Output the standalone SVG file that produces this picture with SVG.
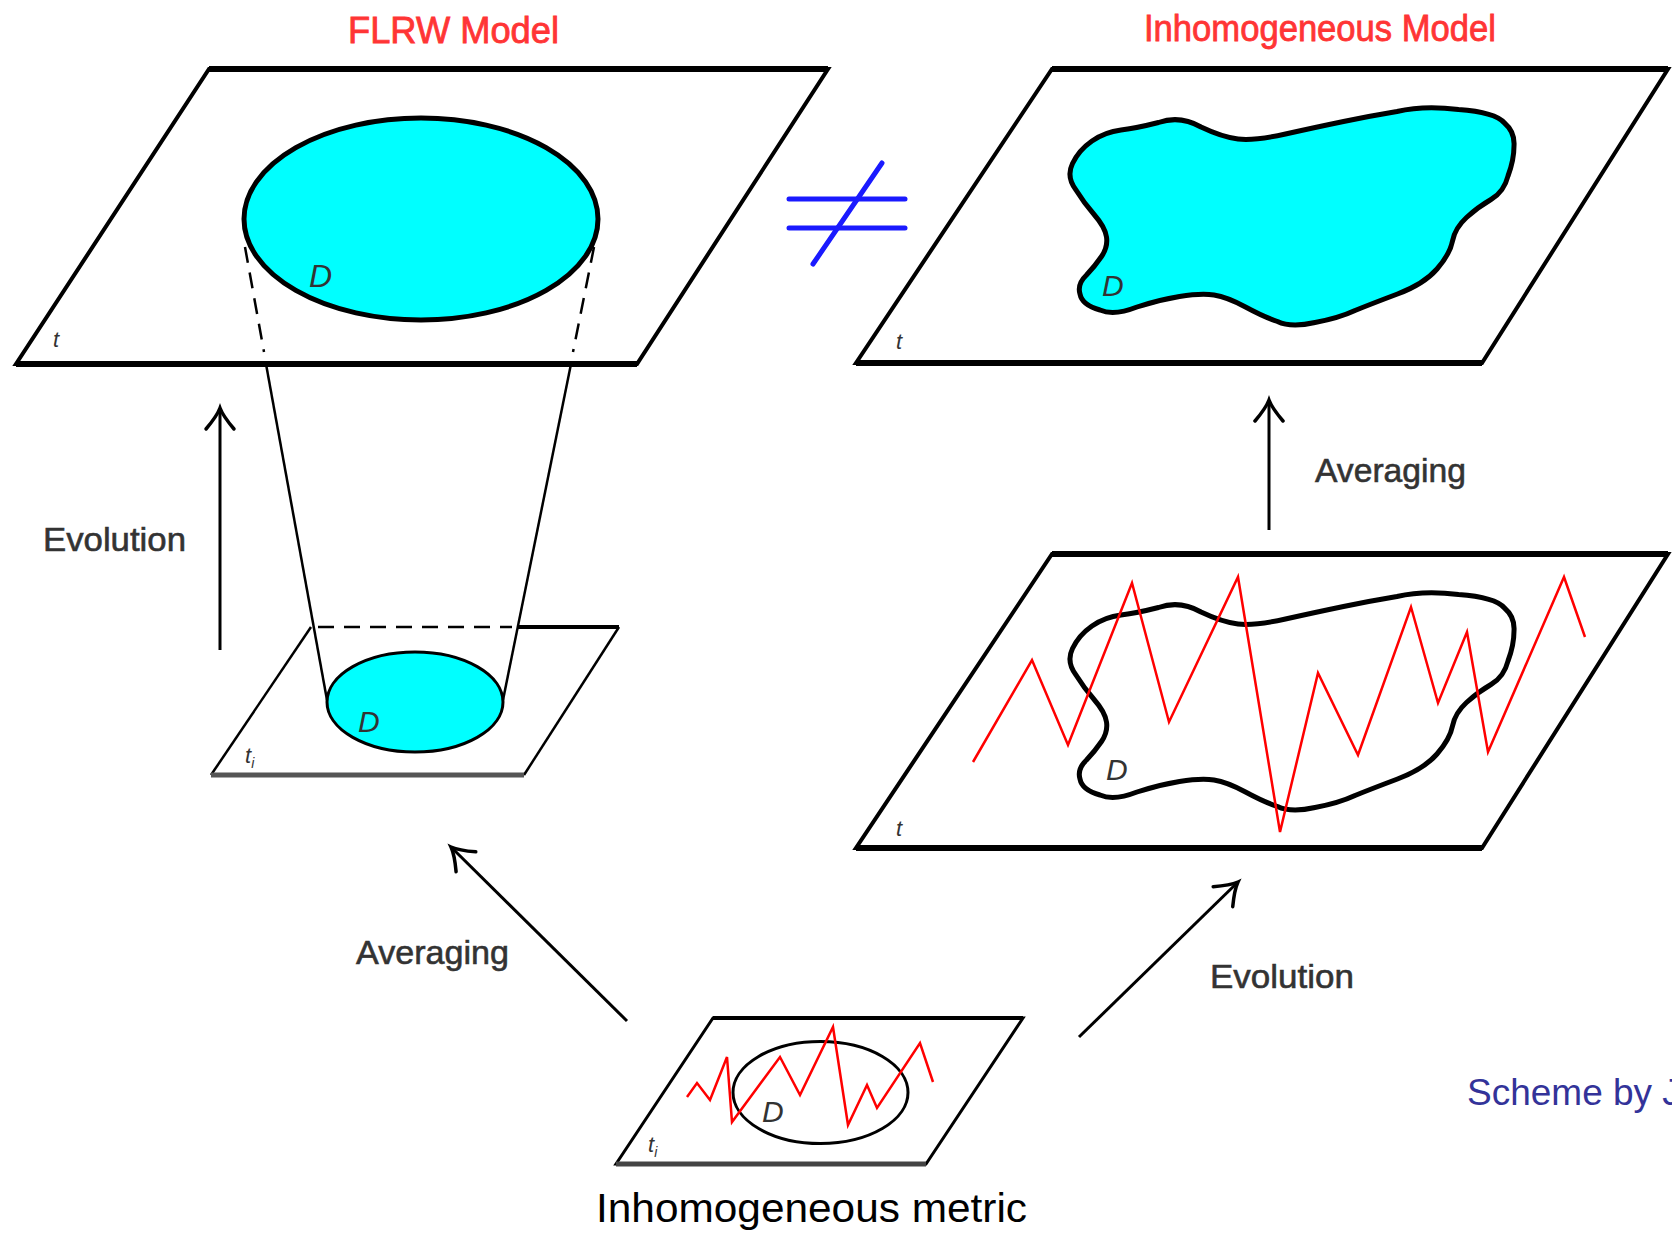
<svg xmlns="http://www.w3.org/2000/svg" xmlns:xlink="http://www.w3.org/1999/xlink" width="1672" height="1233" viewBox="0 0 1672 1233">
<style>
.plane{fill:#fff;stroke:#000;stroke-width:4;stroke-linejoin:miter}
.edge{stroke:#000;stroke-width:6;fill:none}
.thin{stroke:#000;stroke-width:2.5;fill:none}
.dash{stroke:#000;stroke-width:2.5;fill:none;stroke-dasharray:16 10}
.disk{fill:#00ffff;stroke:#000;stroke-width:5}
.zig{fill:none;stroke:#ff0000;stroke-width:2.5;stroke-linejoin:miter}
.arrow{stroke:#000;stroke-width:3;fill:none;marker-end:url(#ah)}
.title{font-family:"Liberation Sans",Arial,sans-serif;font-size:36px;fill:#ff3535;stroke:#ff3535;stroke-width:0.8}
.lbl{font-family:"Liberation Sans",Arial,sans-serif;font-size:34px;fill:#333;stroke:#333;stroke-width:0.6}
.var{font-family:"Liberation Sans",Arial,sans-serif;font-style:italic;fill:#333}
.cap{font-family:"Liberation Sans",Arial,sans-serif;font-size:40px;fill:#000}
</style>
<defs>
<marker id="ah" markerUnits="userSpaceOnUse" markerWidth="40" markerHeight="40" refX="0" refY="0" viewBox="-25 -20 30 40" orient="auto" overflow="visible">
<path d="M-21,-14 Q-8,-3 0,0 Q-8,3 -21,14" fill="none" stroke="#000" stroke-width="3.5" stroke-linecap="round"/>
</marker>
<path id="blob" d="M1158.5,122.5 Q1180,115 1201,127 Q1222,137 1238,139 Q1254,141 1285.5,134 Q1317,127 1343.5,121.5 Q1370,116 1397,111.5 Q1424,105 1458.5,109.5 Q1495,112 1504.5,123 Q1515,132 1514,146 Q1514,160 1508,176 Q1504,192 1491,199.5 Q1478,207 1466.5,217.5 Q1455,228 1452.5,241 Q1450,254 1437,269 Q1424,284 1397.5,294 Q1371,304 1355,310.5 Q1339,318 1315,322.5 Q1291,328 1277.5,321.5 Q1264,317 1245.5,307 Q1227,297 1214,295 Q1201,293 1179.5,296.5 Q1158,300 1137,307 Q1114,316 1100,310 Q1082,305 1080,294 Q1077,284 1086.5,275 Q1095,266 1101.5,256.5 Q1108,247 1106.5,237 Q1105,227 1094.5,215 Q1084,203 1076,190 Q1066,177 1072.5,163.5 Q1079,150 1092,141 Q1105,132 1121,130 Q1137,128 1158.5,122.5 Z"/>
</defs>
<rect width="1672" height="1233" fill="#fff"/>

<!-- Titles -->
<text class="title" x="348" y="43" textLength="211" lengthAdjust="spacingAndGlyphs">FLRW Model</text>
<text class="title" x="1144" y="41" textLength="352" lengthAdjust="spacingAndGlyphs">Inhomogeneous Model</text>

<!-- FLRW model at t -->
<g id="flrw-t">
<polygon class="plane" points="209,69 828,69 637,364 16,364"/>
<line class="edge" x1="209" y1="69" x2="828" y2="69"/>
<line class="edge" x1="16" y1="364" x2="637" y2="364"/>
<line class="dash" x1="245" y1="247" x2="264" y2="352"/>
<line class="dash" x1="594" y1="247" x2="573" y2="352"/>
<ellipse class="disk" cx="421" cy="219" rx="177" ry="101"/>
<text class="var" x="309" y="287" font-size="32">D</text>
<text class="var" x="53" y="347" font-size="22">t</text>
</g>

<!-- not equal sign -->
<g id="not-equal" stroke="#1a1aff" stroke-width="5" stroke-linecap="round">
<line x1="789" y1="199" x2="905" y2="199"/>
<line x1="789" y1="228" x2="905" y2="228"/>
<line x1="813" y1="264" x2="882" y2="163"/>
</g>

<!-- Inhomogeneous model at t -->
<g id="inhom-t">
<polygon class="plane" points="1052,69 1668,69 1482,363 856,363"/>
<line class="edge" x1="1052" y1="69" x2="1668" y2="69"/>
<line class="edge" x1="856" y1="363" x2="1482" y2="363"/>
<use xlink:href="#blob" fill="#00ffff" stroke="#000" stroke-width="5"/>
<text class="var" x="1102" y="296" font-size="30">D</text>
<text class="var" x="896" y="349" font-size="22">t</text>
</g>

<!-- FLRW at t_i -->
<g id="flrw-ti">
<polygon points="311,627 619,627 524,775 211,775" fill="#fff" stroke="none"/>
<line class="thin" x1="311" y1="627" x2="211" y2="775"/>
<line class="thin" x1="619" y1="627" x2="524" y2="775"/>
<line x1="211" y1="775" x2="524" y2="775" stroke="#555" stroke-width="5"/>
<line class="dash" x1="318" y1="627" x2="512" y2="627" stroke-width="3"/>
<line x1="518" y1="627" x2="619" y2="627" stroke="#000" stroke-width="4"/>
<ellipse cx="415" cy="702" rx="88" ry="50" fill="#00ffff" stroke="#000" stroke-width="3"/>
<text class="var" x="358" y="732" font-size="30">D</text>
<text class="var" x="245" y="763" font-size="22">t<tspan font-size="14" dy="5">i</tspan></text>
</g>

<!-- Inhomogeneous evolved at t -->
<g id="inhom-evolved">
<polygon class="plane" points="1052,554 1668,554 1482,848 856,848"/>
<line class="edge" x1="1052" y1="554" x2="1668" y2="554"/>
<line class="edge" x1="856" y1="848" x2="1482" y2="848"/>
<use xlink:href="#blob" transform="translate(0,485)" fill="none" stroke="#000" stroke-width="5"/>
<polyline class="zig" points="973,762 1032,660 1068,745 1132,583 1169,722 1238,577 1280,832 1318,673 1358,755 1411,607 1438,703 1467,632 1488,752 1564,577 1585,637"/>
<text class="var" x="1106" y="780" font-size="30">D</text>
<text class="var" x="896" y="836" font-size="22">t</text>
</g>

<!-- Inhomogeneous metric at t_i -->
<g id="inhom-ti">
<polygon points="713,1018 1023,1018 926,1164 616,1164" fill="#fff" stroke="#000" stroke-width="3"/>
<line x1="713" y1="1018" x2="1023" y2="1018" stroke="#000" stroke-width="4"/>
<line x1="616" y1="1164" x2="926" y2="1164" stroke="#444" stroke-width="5"/>
<ellipse cx="820.5" cy="1092.5" rx="87.5" ry="51" fill="none" stroke="#000" stroke-width="3"/>
<polyline class="zig" points="687,1097 697,1083 710,1100 727,1057 732,1122 780,1057 800,1095 833,1027 848,1125 867,1085 877,1108 920,1043 933,1082"/>
<text class="var" x="762" y="1122" font-size="30">D</text>
<text class="var" x="648" y="1152" font-size="22">t<tspan font-size="14" dy="5">i</tspan></text>
</g>

<!-- Connectors -->
<g id="connectors">
<line class="thin" x1="266" y1="364" x2="327" y2="700"/>
<line class="thin" x1="571" y1="364" x2="503" y2="700"/>
<line class="arrow" x1="220" y1="650" x2="220" y2="408"/>
<line class="arrow" x1="1269" y1="530" x2="1269" y2="400"/>
<line class="arrow" x1="627" y1="1021" x2="451" y2="847"/>
<line class="arrow" x1="1079" y1="1037" x2="1238" y2="882"/>
</g>

<!-- Labels -->
<g id="labels">
<text class="lbl" x="43" y="551" textLength="143" lengthAdjust="spacingAndGlyphs">Evolution</text>
<text class="lbl" x="1315" y="482" textLength="151" lengthAdjust="spacingAndGlyphs">Averaging</text>
<text class="lbl" x="356" y="964" textLength="153" lengthAdjust="spacingAndGlyphs">Averaging</text>
<text class="lbl" x="1210" y="988" textLength="144" lengthAdjust="spacingAndGlyphs">Evolution</text>
<text class="cap" x="596" y="1222" textLength="431" lengthAdjust="spacingAndGlyphs">Inhomogeneous metric</text>
<text x="1467" y="1105" font-family="'Liberation Sans',Arial,sans-serif" font-size="37" fill="#333399">Scheme by J</text>
</g>
</svg>
